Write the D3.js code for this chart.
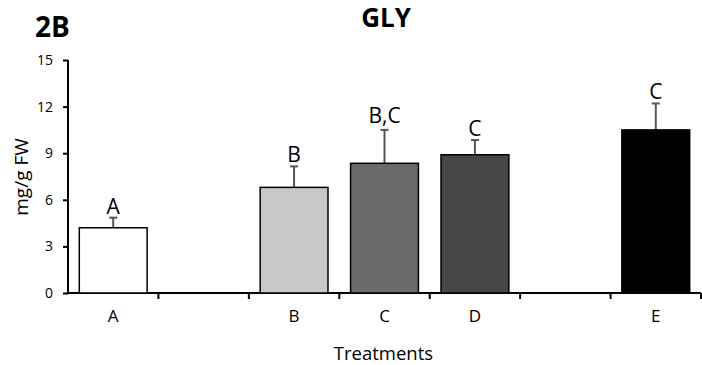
<!DOCTYPE html>
<html>
<head>
<meta charset="utf-8">
<script src="https://cdn.jsdelivr.net/npm/d3@7"></script>
<style>
  body { margin: 0; background: #fff; }
  svg { display: block; font-family: "Open Sans", "Noto Sans", sans-serif; }
</style>
</head>
<body>
<div id="chart"></div>
<script>
// x slots (gaps are empty positions on the axis)
var slots = ["A", "gap1", "B", "C", "D", "gap2", "E"];
var treatments = ["A", "B", "C", "D", "E"];
var means = [4.2, 6.8, 8.35, 8.9, 10.5];
var errors = [0.65, 1.35, 2.15, 0.95, 1.7];
var groups = ["A", "B", "B,C", "C", "C"];
var fills = ["#ffffff", "#c8c8c8", "#6a6a6a", "#474747", "#000000"];
var yTicks = [0, 3, 6, 9, 12, 15];

var width = 702, height = 365;
var margin = {top: 60, right: 1, bottom: 72, left: 68};
var innerW = width - margin.left - margin.right;
var innerH = height - margin.top - margin.bottom;

var svg = d3.select("#chart").append("svg")
    .attr("width", width)
    .attr("height", height);

var g = svg.append("g")
    .attr("transform", "translate(" + margin.left + "," + margin.top + ")");

var x = d3.scaleBand()
    .domain(slots)
    .range([0, innerW])
    .paddingInner(0.25)
    .paddingOuter(0.125);

var y = d3.scaleLinear()
    .domain([0, 15])
    .range([innerH, 0]);

//Y axis
var yAxis = g.append("g")
    .call(d3.axisLeft(y).tickValues(yTicks).tickSize(5).tickPadding(10))
    .attr("font-family", null)
    .attr("font-size", null);
yAxis.select(".domain").attr("stroke-width", 2).attr("d", "M0," + innerH + "V0");
yAxis.selectAll(".tick line").attr("stroke-width", 2);
yAxis.selectAll("text").attr("font-size", "14px").attr("fill", "#000");

//X axis (labels only, ticks drawn on band edges below)
var xAxis = g.append("g")
    .attr("transform", "translate(0," + innerH + ")")
    .call(d3.axisBottom(x).tickSize(0).tickPadding(17)
        .tickFormat(function (d) { return d.indexOf("gap") === 0 ? "" : d; }))
    .attr("font-family", null)
    .attr("font-size", null);
xAxis.select(".domain").attr("stroke-width", 2).attr("d", "M0,0H" + innerW);
xAxis.selectAll("text").attr("font-size", "17px").attr("fill", "#000");

var step = x.step();
var edges = slots.map(function (s) { return x(s) + x.bandwidth() + step * x.paddingInner() / 2; });
g.selectAll(".edge-tick")
    .data(edges)
    .enter()
    .append("line")
    .attr("class", "edge-tick")
    .attr("x1", function (d) { return d; })
    .attr("x2", function (d) { return d; })
    .attr("y1", innerH)
    .attr("y2", innerH + 6)
    .attr("stroke", "#000")
    .attr("stroke-width", 2);

var data = treatments.map(function (t, i) {
    return {key: t, mean: means[i], err: errors[i], group: groups[i], fill: fills[i]};
});

//Error bars
var eb = g.selectAll(".err")
    .data(data)
    .enter()
    .append("g")
    .attr("class", "err")
    .attr("stroke", "#555")
    .attr("stroke-width", 2);
eb.append("line")
    .attr("x1", function (d) { return x(d.key) + x.bandwidth() / 2; })
    .attr("x2", function (d) { return x(d.key) + x.bandwidth() / 2; })
    .attr("y1", function (d) { return y(d.mean); })
    .attr("y2", function (d) { return y(d.mean + d.err); });
eb.append("line")
    .attr("x1", function (d) { return x(d.key) + x.bandwidth() / 2 - 4; })
    .attr("x2", function (d) { return x(d.key) + x.bandwidth() / 2 + 4; })
    .attr("y1", function (d) { return y(d.mean + d.err); })
    .attr("y2", function (d) { return y(d.mean + d.err); });

//Bars
g.selectAll(".bar")
    .data(data)
    .enter()
    .append("rect")
    .attr("class", "bar")
    .attr("x", function (d) { return x(d.key); })
    .attr("width", x.bandwidth())
    .attr("y", function (d) { return y(d.mean); })
    .attr("height", function (d) { return innerH - y(d.mean); })
    .attr("fill", function (d) { return d.fill; })
    .attr("stroke", "#000")
    .attr("stroke-width", 1.5);

//Group letters
g.selectAll(".grp")
    .data(data)
    .enter()
    .append("text")
    .attr("class", "grp")
    .attr("text-anchor", "middle")
    .attr("x", function (d) { return x(d.key) + x.bandwidth() / 2; })
    .attr("y", function (d) { return y(d.mean + d.err) - (d.group.indexOf(",") >= 0 ? 7 : 4); })
    .attr("font-size", "21px")
    .attr("fill", "#000")
    .text(function (d) { return d.group; });

//Titles
svg.append("text")
    .attr("x", 386)
    .attr("y", 27)
    .attr("text-anchor", "middle")
    .attr("font-size", "26px")
    .attr("font-weight", "bold")
    .text("GLY");

svg.append("text")
    .attr("x", 35)
    .attr("y", 37)
    .attr("font-size", "28px")
    .attr("font-weight", "bold")
    .text("2B");

svg.append("text")
    .attr("x", margin.left + innerW / 2 - 1)
    .attr("y", 360)
    .attr("text-anchor", "middle")
    .attr("font-size", "18.5px")
    .text("Treatments");

svg.append("text")
    .attr("transform", "translate(28," + 177 + ") rotate(-90)")
    .attr("text-anchor", "middle")
    .attr("font-size", "19px")
    .text("mg/g FW");
</script>
</body>
</html>
